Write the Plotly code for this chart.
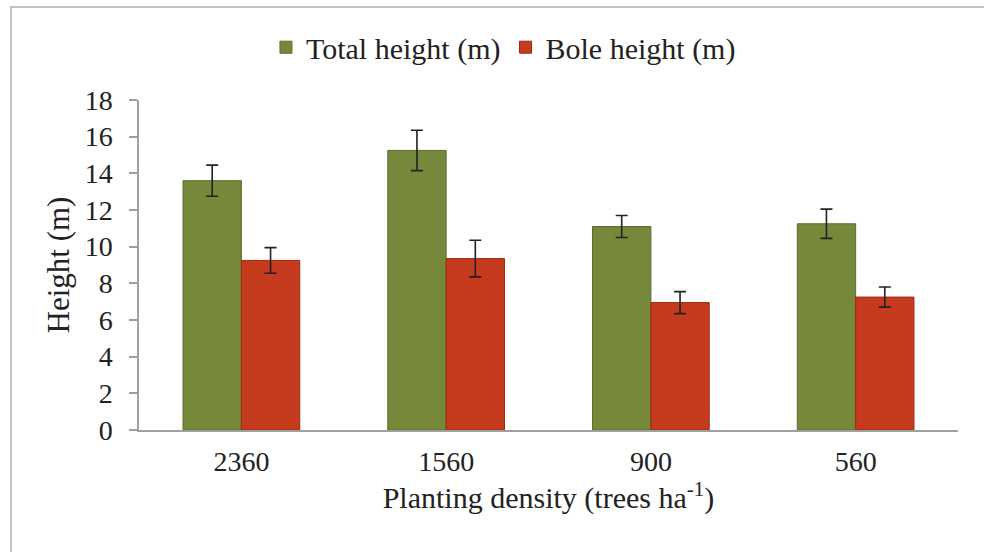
import plotly.graph_objects as go

densities = ["2360", "1560", "900", "560"]
total_height = [13.6, 15.25, 11.1, 11.25]
total_err = [0.85, 1.1, 0.6, 0.8]
bole_height = [9.25, 9.35, 6.95, 7.25]
bole_err = [0.7, 1.0, 0.6, 0.55]
y_ticks = [0, 2, 4, 6, 8, 10, 12, 14, 16, 18]

FONT = "Times New Roman, Liberation Serif, serif"
TXT = "#222222"

fig = go.Figure()
fig.add_trace(go.Bar(
    name="Total height (m)", x=densities, y=total_height,
    marker=dict(color="#76883a", line=dict(color="#5c6c2a", width=1)),
    error_y=dict(type="data", array=total_err, visible=True,
                 color="#222222", thickness=1.6, width=6),
))
fig.add_trace(go.Bar(
    name="Bole height (m)", x=densities, y=bole_height,
    marker=dict(color="#c63a1d", line=dict(color="#9c2a12", width=1)),
    error_y=dict(type="data", array=bole_err, visible=True,
                 color="#222222", thickness=1.6, width=6),
))

fig.update_layout(
    width=984, height=552,
    margin=dict(l=139, r=26, t=100, b=122),
    paper_bgcolor="white", plot_bgcolor="white",
    font=dict(family=FONT, size=28, color=TXT),
    barmode="group", bargap=0.43, bargroupgap=0.0,
    legend=dict(orientation="h", x=0.445, xanchor="center", y=1.16, yanchor="middle",
                font=dict(family=FONT, size=30, color=TXT), itemwidth=30,
                bgcolor="rgba(0,0,0,0)"),
    xaxis=dict(
        showline=True, linecolor="#a0a0a0", linewidth=2,
        ticks="", tickfont=dict(family=FONT, size=28, color=TXT),
        ticklabelstandoff=5,
        title=dict(text="Planting density (trees ha<sup>-1</sup>)",
                   font=dict(family=FONT, size=30, color=TXT), standoff=2),
    ),
    yaxis=dict(
        range=[0, 18], tickvals=y_ticks, showgrid=False, zeroline=False,
        showline=True, linecolor="#a0a0a0", linewidth=1.5,
        ticks="outside", ticklen=8, tickcolor="#a0a0a0", tickwidth=1.5,
        ticklabelstandoff=11,
        tickfont=dict(family=FONT, size=28, color=TXT),
        title=dict(text="Height (m)", font=dict(family=FONT, size=31, color=TXT), standoff=6),
    ),
    shapes=[dict(type="rect", xref="paper", yref="paper",
                 x0=-128/819, x1=(1000-139)/819, y0=-140/330, y1=(430-7)/330,
                 line=dict(color="#b0b0b0", width=1.5), fillcolor="rgba(0,0,0,0)",
                 layer="below")],
)

fig.write_html("out.html")
